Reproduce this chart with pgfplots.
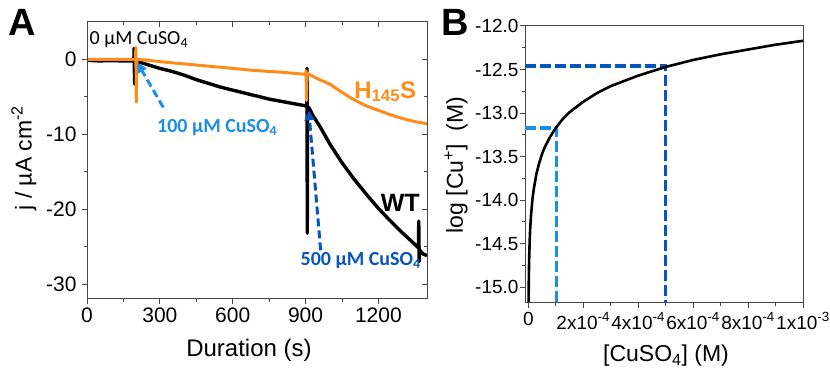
\documentclass[border=0pt]{standalone}
\usepackage{pgfplots}
\pgfplotsset{compat=1.18}
\usepackage{fontspec}
\setmainfont{Liberation Sans}
\newfontfamily\calib{Carlito}
\usetikzlibrary{arrows.meta}
\definecolor{orng}{RGB}{255,140,26}
\definecolor{lblue}{RGB}{28,142,228}
\definecolor{dblue}{RGB}{8,84,188}
\definecolor{frame}{RGB}{70,70,70}

\begin{document}
\begin{tikzpicture}
\useasboundingbox (0,0) rectangle (830bp,374bp);
% ---------------- Panel A ----------------
\begin{axis}[at={(87bp,75bp)}, anchor=south west, scale only axis,
  width=340bp, height=277bp,
  xmin=0, xmax=1400, ymin=-32, ymax=5,
  xtick={0,300,...,1200}, minor x tick num=1,
  ytick={-30,-20,-10,0}, minor y tick num=1,
  tick align=outside, xtick pos=left, ytick pos=left,
  major tick length=5bp, minor tick length=3bp,
  axis line style={frame, line width=1bp},
  tick style={frame, line width=1bp},
  /pgf/number format/assume math mode=true,
  /pgf/number format/1000 sep={},
  ticklabel style={font=\fontsize{21bp}{24bp}\selectfont},
  yticklabel style={xshift=-2bp},
  clip mode=individual]
\addplot[black, line width=3.4bp, line join=round] coordinates {
 (0,-0.1) (50,-0.2) (100,-0.15) (150,-0.2) (190,-0.2) (193,-0.2) (194,1.5) (196,-3.3) (198,-0.3)
 (210,-0.3) (250,-0.7) (300,-1.2) (350,-1.6) (400,-2.1) (450,-2.7) (500,-3.2) (550,-3.7)
 (600,-4.1) (650,-4.5) (700,-4.9) (750,-5.3) (800,-5.6) (850,-5.9) (900,-6.2) (905,-6.3)
 (906,-1.2) (907,-23.2) (908,-6.3) (915,-6.5) (930,-7.5) (960,-9.0) (1000,-11.3)
 (1050,-13.8) (1100,-16.0) (1150,-18.0)
 (1200,-19.9) (1250,-21.6) (1300,-23.2)
 (1350,-24.7) (1365,-25.2) (1366,-21.6) (1368,-27.0) (1370,-25.5) (1385,-26.0) (1400,-26.2)};
\addplot[orng, line width=3bp, line join=round] coordinates {
 (0,0) (100,0) (199,0) (200,0) (201,1.6) (203,-5.7) (205,0) (250,-0.1) (300,-0.3)
 (400,-0.6) (500,-0.9) (600,-1.2) (700,-1.5) (800,-1.7) (900,-2.0) (902,-1.5) (904,-5.5)
 (906,-1.9) (910,-1.9) (950,-2.6) (1000,-3.3) (1050,-4.4) (1100,-5.4) (1150,-6.2)
 (1200,-6.8) (1250,-7.4) (1300,-7.9) (1350,-8.3) (1400,-8.6)};
\draw[lblue, line width=3bp, dash pattern=on 8bp off 4bp, -{Triangle[length=10bp,width=10bp]}]
  (axis cs:314,-6.4) -- (axis cs:207,-0.4);
\draw[dblue, line width=3bp, dash pattern=on 8bp off 4bp, -{Triangle[length=10bp,width=10bp]}]
  (axis cs:962,-25.5) -- (axis cs:913,-6.8);
\node[anchor=west, inner sep=0pt, font=\calib\fontsize{20bp}{24bp}\selectfont]
  at (axis cs:10,2.6) {0 µM CuSO\textsubscript{4}};
\node[text=lblue, font=\calib\bfseries\fontsize{20bp}{24bp}\selectfont]
  at (axis cs:536,-9.1) {100 µM CuSO\textsubscript{4}};
\node[text=dblue, font=\calib\bfseries\fontsize{20bp}{24bp}\selectfont]
  at (axis cs:1127,-26.8) {500 µM CuSO\textsubscript{4}};
\node[text=orng, font=\bfseries\fontsize{24bp}{28bp}\selectfont]
  at (axis cs:1228,-4.3) {H\textsubscript{145}S};
\node[font=\bfseries\fontsize{25bp}{28bp}\selectfont]
  at (axis cs:1290,-19.2) {WT};
\end{axis}
% inside ticks on top and right of A
\begin{axis}[at={(87bp,75bp)}, anchor=south west, scale only axis,
  width=340bp, height=277bp,
  xmin=0, xmax=1400, ymin=-32, ymax=5,
  xtick={0,300,...,1200}, minor x tick num=1,
  ytick={-30,-20,-10,0}, minor y tick num=1,
  tick align=inside, xtick pos=right, ytick pos=right,
  major tick length=5bp, minor tick length=3bp,
  axis line style={frame, line width=1bp},
  tick style={frame, line width=1bp},
  xticklabels={}, yticklabels={}]
\end{axis}
% ---------------- Panel B ----------------
\begin{axis}[at={(525bp,71bp)}, anchor=south west, scale only axis,
  width=278bp, height=277bp,
  xmin=-1.2e-5, xmax=1e-3, ymin=-15.18, ymax=-12.0,
  scaled x ticks=false,
  xtick={0,2e-4,4e-4,6e-4,8e-4,1e-3},
  xticklabels={0, 2x10\textsuperscript{-4}, 4x10\textsuperscript{-4}, 6x10\textsuperscript{-4}, 8x10\textsuperscript{-4}, 1x10\textsuperscript{-3}},
  minor x tick num=1,
  ytick={-15,-14.5,-14,-13.5,-13,-12.5,-12}, minor y tick num=1,
  tick align=outside, xtick pos=left, ytick pos=left,
  major tick length=5bp, minor tick length=3bp,
  axis line style={frame, line width=1bp},
  tick style={frame, line width=1bp},
  /pgf/number format/assume math mode=true,
  /pgf/number format/fixed, /pgf/number format/fixed zerofill, /pgf/number format/precision=1,
  ticklabel style={font=\fontsize{19bp}{22bp}\selectfont},
  yticklabel style={xshift=2bp},
  xticklabel style={yshift=-1bp}]
\addplot[lblue, line width=3.2bp, dash pattern=on 11bp off 4bp] coordinates {
 (-1.2e-5,-13.17) (1.03e-4,-13.17) (1.03e-4,-15.18)};
\addplot[dblue, line width=3.2bp, dash pattern=on 11bp off 4bp] coordinates {
 (-1.2e-5,-12.46) (5.0e-4,-12.46) (5.0e-4,-15.18)};
\addplot[black, line width=2.6bp, line join=round] coordinates {
 (1e-6,-15.17) (2e-6,-14.87) (3e-6,-14.69) (5e-6,-14.47) (7e-6,-14.32) (1e-5,-14.17)
 (1.5e-5,-13.99) (2e-5,-13.87) (3e-5,-13.69) (4e-5,-13.57) (5e-5,-13.47) (6e-5,-13.39)
 (8e-5,-13.27) (1e-4,-13.17) (1.25e-4,-13.07) (1.5e-4,-12.99) (2e-4,-12.87) (2.5e-4,-12.77)
 (3e-4,-12.69) (3.5e-4,-12.63) (4e-4,-12.57) (4.5e-4,-12.52) (5e-4,-12.47) (6e-4,-12.39)
 (7e-4,-12.325) (8e-4,-12.27) (9e-4,-12.215) (1e-3,-12.17)};
\end{axis}
% ---------------- labels ----------------
\node[font=\bfseries\fontsize{38bp}{40bp}\selectfont] at (22bp,352bp) {A};
\node[font=\bfseries\fontsize{38bp}{40bp}\selectfont] at (455bp,352bp) {B};
\node[font=\fontsize{24bp}{28bp}\selectfont] at (249bp,24bp) {Duration (s)};
\node[rotate=90, font=\fontsize{23bp}{26bp}\selectfont] at (24bp,216bp) {j / µA cm\textsuperscript{-2}};
\node[rotate=90, font=\fontsize{23bp}{26bp}\selectfont] at (456bp,209bp) {log [Cu\textsuperscript{+}]\ \ (M)};
\node[font=\fontsize{23bp}{26bp}\selectfont] at (666bp,18bp) {[CuSO\textsubscript{4}] (M)};
\end{tikzpicture}
\end{document}
